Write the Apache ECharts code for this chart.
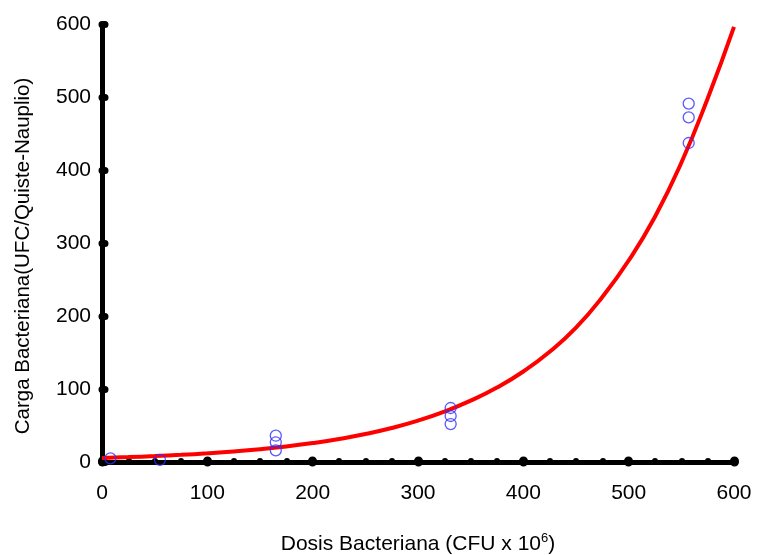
<!DOCTYPE html>
<html>
<head>
<meta charset="utf-8">
<script src="https://cdn.jsdelivr.net/npm/echarts@6/dist/echarts.min.js"></script>
<style>
  html, body { margin: 0; padding: 0; background: #fff; }
  #chart { width: 758px; height: 555px; }
</style>
</head>
<body>
<div id="chart"></div>
<script>
// Observed bacterial load for each dose (replicates share a dose)
const doseObs = [8, 55, 165, 165, 165, 331, 331, 331, 557, 557, 557];
const loadObs = [5, 3, 36, 27, 16, 74, 63, 52, 491, 472, 437];

// Fitted exponential curve, sampled every 25 dose units
const doseFit = [0, 25, 50, 75, 100, 125, 150, 175, 200, 225, 250, 275, 300,
                 325, 350, 375, 400, 425, 450, 475, 500, 525, 550, 575, 600];
const loadFit = [5.5, 6.7, 8.1, 9.8, 11.9, 14.4, 17.5, 21.3, 25.9, 31.5, 38.3, 46.6, 56.7,
                 69.0, 84.0, 102, 124, 151, 184, 226, 276, 336, 410, 498, 596];

const xTicks = [0, 100, 200, 300, 400, 500, 600];
const yTicks = [0, 100, 200, 300, 400, 500, 600];

const FONT = '"Liberation Sans", Arial, sans-serif';

const chart = echarts.init(document.getElementById('chart'), null, { renderer: 'canvas' });

chart.setOption({
  animation: false,
  backgroundColor: '#ffffff',
  grid: { left: 102, right: 24, top: 24, bottom: 93, containLabel: false, outerBoundsMode: 'none' },
  xAxis: {
    type: 'value',
    min: xTicks[0],
    max: xTicks[xTicks.length - 1],
    interval: 100,
    name: '{t|Dosis Bacteriana (CFU x 10}{s|6}{t|)}',
    nameLocation: 'middle',
    nameGap: 70,
    nameTextStyle: {
      rich: {
        t: { fontFamily: FONT, fontSize: 21, color: '#000' },
        s: { fontFamily: FONT, fontSize: 13, color: '#000', verticalAlign: 'bottom', padding: [0, 0, 12, 0] }
      }
    },
    axisLine: { show: true, lineStyle: { color: '#000', width: 5, cap: 'round' } },
    axisTick: { show: true, inside: true, length: 1, lineStyle: { color: '#000', width: 9, cap: 'round' } },
    minorTick: { show: true, splitNumber: 4, length: 1, lineStyle: { color: '#000', width: 6, cap: 'round' } },
    axisLabel: { fontFamily: FONT, fontSize: 21, color: '#000', margin: 21 },
    splitLine: { show: false }
  },
  yAxis: {
    type: 'value',
    min: yTicks[0],
    max: yTicks[yTicks.length - 1],
    interval: 100,
    name: 'Carga Bacteriana(UFC/Quiste-Nauplio)',
    nameLocation: 'middle',
    nameGap: 68,
    nameTextStyle: { fontFamily: FONT, fontSize: 20.5, color: '#000', padding: [0, 26, 0, 0] },
    axisLine: { show: true, lineStyle: { color: '#000', width: 5, cap: 'round' } },
    axisTick: { show: true, inside: true, length: 3, lineStyle: { color: '#000', width: 7, cap: 'round' } },
    axisLabel: { fontFamily: FONT, fontSize: 21, color: '#000', margin: 11 },
    splitLine: { show: false }
  },
  series: [
    {
      type: 'line',
      data: doseFit.map((d, i) => [d, loadFit[i]]),
      smooth: true,
      showSymbol: false,
      lineStyle: { color: '#ff0000', width: 4 },
      z: 2
    },
    {
      type: 'scatter',
      data: doseObs.map((d, i) => [d, loadObs[i]]),
      symbol: 'circle',
      symbolSize: 11,
      itemStyle: { color: 'rgba(0,0,0,0)', borderColor: '#2f2fff', borderWidth: 1.3 },
      z: 3
    }
  ]
});
</script>
</body>
</html>
